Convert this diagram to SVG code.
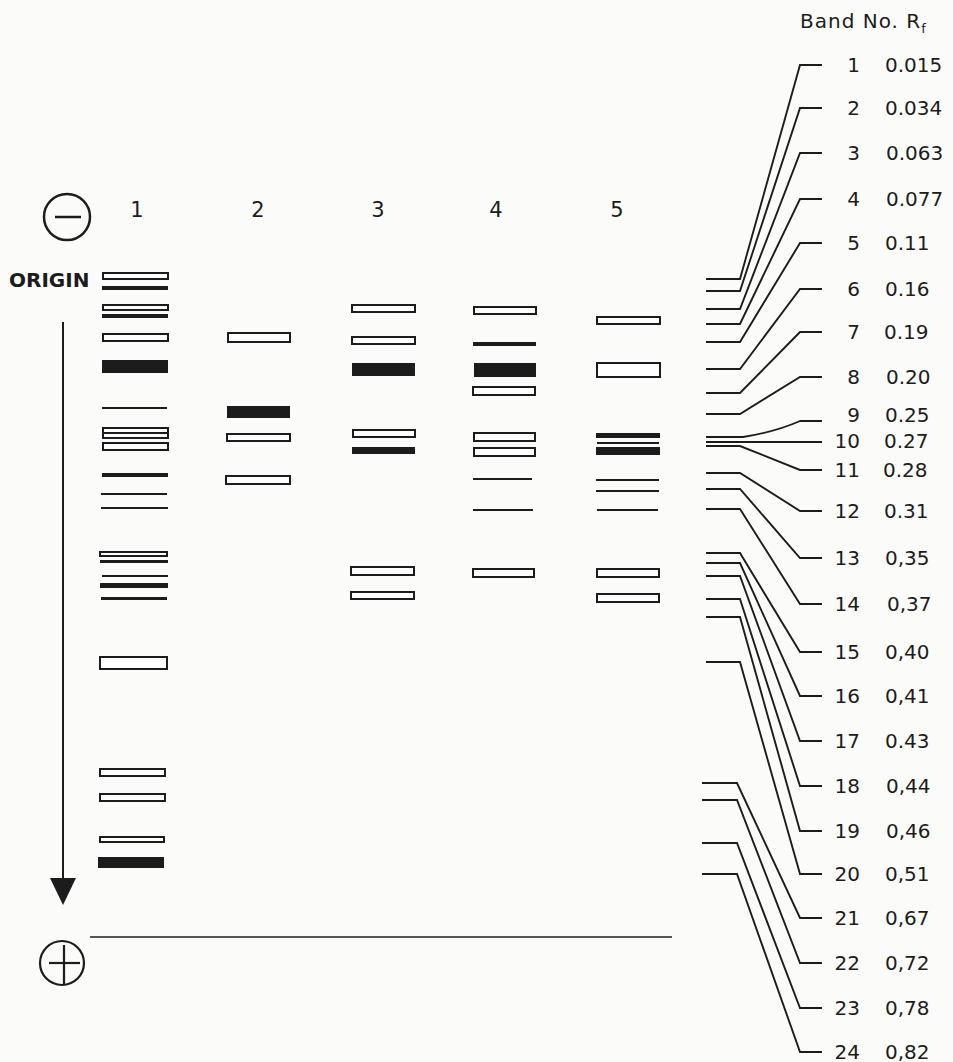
<svg xmlns="http://www.w3.org/2000/svg" width="953" height="1062" viewBox="0 0 953 1062">
<style>
.o{fill:#fff;stroke:#1c1c1c;stroke-width:2}
.s{fill:#1c1c1c}
.l{stroke:#1c1c1c;stroke-width:2.2}
.c{fill:none;stroke:#1c1c1c;stroke-width:1.9}
.t{font-family:"DejaVu Sans",sans-serif;font-size:20px;fill:#1c1c1c}
.lab{font-family:"DejaVu Sans",sans-serif;font-size:21px;fill:#1c1c1c;text-anchor:middle}
</style>
<rect width="953" height="1062" fill="#fbfbfa"/>
<g id="electrodes">
<circle cx="67" cy="217" r="23" fill="none" stroke="#1c1c1c" stroke-width="2.5"/>
<line x1="55" y1="217" x2="81" y2="217" stroke="#1c1c1c" stroke-width="2.5"/>
<circle cx="62" cy="963" r="22" fill="none" stroke="#1c1c1c" stroke-width="2.2"/>
<line x1="49" y1="963" x2="80" y2="963" stroke="#1c1c1c" stroke-width="2.2"/>
<line x1="64" y1="945" x2="64" y2="985" stroke="#1c1c1c" stroke-width="2.2"/>
</g>
<g id="axis">
<text x="9" y="287" font-family="DejaVu Sans,sans-serif" font-weight="bold" font-size="20" fill="#1c1c1c">ORIGIN</text>
<line x1="63" y1="322" x2="63" y2="880" stroke="#1c1c1c" stroke-width="2"/>
<polygon points="50,878 76,878 63,905" fill="#1c1c1c"/>
<line x1="90" y1="937" x2="672" y2="937" stroke="#1c1c1c" stroke-width="1.6"/>
</g>
<g id="lane-labels">
<text class="lab" x="137" y="217">1</text>
<text class="lab" x="258" y="217">2</text>
<text class="lab" x="378" y="217">3</text>
<text class="lab" x="496" y="217">4</text>
<text class="lab" x="617" y="217">5</text>
</g>
<g id="lane1">
<rect class="o" x="103" y="273" width="65" height="6"/>
<rect class="s" x="102" y="286" width="66" height="4"/>
<rect class="o" x="103" y="305" width="65" height="5"/>
<rect class="s" x="102" y="314" width="66" height="4"/>
<rect class="o" x="103" y="334" width="65" height="7"/>
<rect class="s" x="102" y="360" width="66" height="13"/>
<line class="l" x1="102" y1="408" x2="167" y2="408"/>
<rect class="o" x="103" y="428" width="65" height="10"/>
<line class="l" x1="103" y1="433" x2="168" y2="433"/>
<rect class="o" x="103" y="443" width="65" height="7"/>
<rect class="s" x="102" y="473" width="66" height="4"/>
<line class="l" x1="101" y1="494" x2="167" y2="494"/>
<line class="l" x1="101" y1="508" x2="168" y2="508"/>
<rect class="o" x="100" y="552" width="67" height="4"/>
<rect class="s" x="100" y="560" width="68" height="3"/>
<line class="l" x1="102" y1="576" x2="168" y2="576"/>
<rect class="s" x="100" y="583" width="68" height="5"/>
<rect class="s" x="101" y="597" width="66" height="3"/>
<rect class="o" x="100" y="657" width="67" height="12"/>
<rect class="o" x="100" y="769" width="65" height="7"/>
<rect class="o" x="100" y="794" width="65" height="7"/>
<rect class="o" x="100" y="837" width="64" height="5"/>
<rect class="s" x="98" y="857" width="66" height="11"/>
</g>
<g id="lane2">
<rect class="o" x="228" y="333" width="62" height="9"/>
<rect class="s" x="227" y="406" width="63" height="12"/>
<rect class="o" x="227" y="434" width="63" height="7"/>
<rect class="o" x="226" y="476" width="64" height="8"/>
</g>
<g id="lane3">
<rect class="o" x="352" y="305" width="63" height="7"/>
<rect class="o" x="352" y="337" width="63" height="7"/>
<rect class="s" x="352" y="363" width="63" height="13"/>
<rect class="o" x="353" y="430" width="62" height="7"/>
<rect class="s" x="352" y="447" width="63" height="7"/>
<rect class="o" x="351" y="567" width="63" height="8"/>
<rect class="o" x="351" y="592" width="63" height="7"/>
</g>
<g id="lane4">
<rect class="o" x="474" y="307" width="62" height="7"/>
<rect class="s" x="473" y="342" width="63" height="4"/>
<rect class="s" x="474" y="363" width="62" height="14"/>
<rect class="o" x="473" y="387" width="62" height="8"/>
<rect class="o" x="474" y="433" width="61" height="8"/>
<rect class="o" x="474" y="448" width="61" height="8"/>
<line class="l" x1="473" y1="479" x2="532" y2="479"/>
<line class="l" x1="473" y1="510" x2="533" y2="510"/>
<rect class="o" x="473" y="569" width="61" height="8"/>
</g>
<g id="lane5">
<rect class="o" x="597" y="317" width="63" height="7"/>
<rect class="o" x="597" y="363" width="63" height="14"/>
<rect class="s" x="596" y="433" width="64" height="5"/>
<line class="l" x1="597" y1="443" x2="659" y2="443"/>
<rect class="s" x="596" y="447" width="64" height="8"/>
<line class="l" x1="596" y1="480" x2="659" y2="480"/>
<line class="l" x1="596" y1="491" x2="659" y2="491"/>
<line class="l" x1="597" y1="510" x2="658" y2="510"/>
<rect class="o" x="597" y="569" width="62" height="8"/>
<rect class="o" x="597" y="594" width="62" height="8"/>
</g>
<g id="connectors">
<path class="c" d="M706,279H740L800,65H822"/>
<path class="c" d="M706,291H740L800,108H822"/>
<path class="c" d="M706,309H740L800,153H822"/>
<path class="c" d="M706,324H740L800,199H822"/>
<path class="c" d="M706,342H740L800,243H822"/>
<path class="c" d="M706,369H740L800,289H822"/>
<path class="c" d="M706,393H740L800,332H822"/>
<path class="c" d="M706,414H740L800,377H822"/>
<path class="c" d="M706,437H743Q775,432 800,421H822"/>
<path class="c" d="M706,442H822"/>
<path class="c" d="M706,446H740L800,470H822"/>
<path class="c" d="M706,473H740L800,511H822"/>
<path class="c" d="M706,489H740L800,558H822"/>
<path class="c" d="M706,509H740L800,604H822"/>
<path class="c" d="M706,553H740L800,652H822"/>
<path class="c" d="M706,563H740L800,696H822"/>
<path class="c" d="M706,576H740L800,741H822"/>
<path class="c" d="M706,599H740L800,786H822"/>
<path class="c" d="M706,617H740L800,831H822"/>
<path class="c" d="M706,662H740L800,874H822"/>
<path class="c" d="M702,783H737L800,918H822"/>
<path class="c" d="M702,800H737L800,963H822"/>
<path class="c" d="M702,843H737L800,1008H822"/>
<path class="c" d="M702,874H737L800,1052H822"/>
</g>
<g id="legend">
<text class="t" x="800" y="28" font-size="18" letter-spacing="1">Band No. R<tspan font-size="13" dy="5">f</tspan></text>
<g text-anchor="end">
<text class="t" x="860" y="72">1</text>
<text class="t" x="860" y="115">2</text>
<text class="t" x="860" y="160">3</text>
<text class="t" x="860" y="206">4</text>
<text class="t" x="860" y="250">5</text>
<text class="t" x="860" y="296">6</text>
<text class="t" x="860" y="339">7</text>
<text class="t" x="860" y="384">8</text>
<text class="t" x="860" y="422">9</text>
<text class="t" x="860" y="448">10</text>
<text class="t" x="860" y="477">11</text>
<text class="t" x="860" y="518">12</text>
<text class="t" x="860" y="565">13</text>
<text class="t" x="860" y="611">14</text>
<text class="t" x="860" y="659">15</text>
<text class="t" x="860" y="703">16</text>
<text class="t" x="860" y="748">17</text>
<text class="t" x="860" y="793">18</text>
<text class="t" x="860" y="838">19</text>
<text class="t" x="860" y="881">20</text>
<text class="t" x="860" y="925">21</text>
<text class="t" x="860" y="970">22</text>
<text class="t" x="860" y="1015">23</text>
<text class="t" x="860" y="1059">24</text>
</g>
<text class="t" x="885" y="72">0.015</text>
<text class="t" x="885" y="115">0.034</text>
<text class="t" x="886" y="160">0.063</text>
<text class="t" x="886" y="206">0.077</text>
<text class="t" x="885" y="250">0.11</text>
<text class="t" x="885" y="296">0.16</text>
<text class="t" x="884" y="339">0.19</text>
<text class="t" x="886" y="384">0.20</text>
<text class="t" x="885" y="422">0.25</text>
<text class="t" x="884" y="448">0.27</text>
<text class="t" x="883" y="477">0.28</text>
<text class="t" x="884" y="518">0.31</text>
<text class="t" x="885" y="565">0,35</text>
<text class="t" x="887" y="611">0,37</text>
<text class="t" x="885" y="659">0,40</text>
<text class="t" x="885" y="703">0,41</text>
<text class="t" x="885" y="748">0.43</text>
<text class="t" x="886" y="793">0,44</text>
<text class="t" x="886" y="838">0,46</text>
<text class="t" x="885" y="881">0,51</text>
<text class="t" x="885" y="925">0,67</text>
<text class="t" x="885" y="970">0,72</text>
<text class="t" x="885" y="1015">0,78</text>
<text class="t" x="885" y="1059">0,82</text>
</g>
</svg>
